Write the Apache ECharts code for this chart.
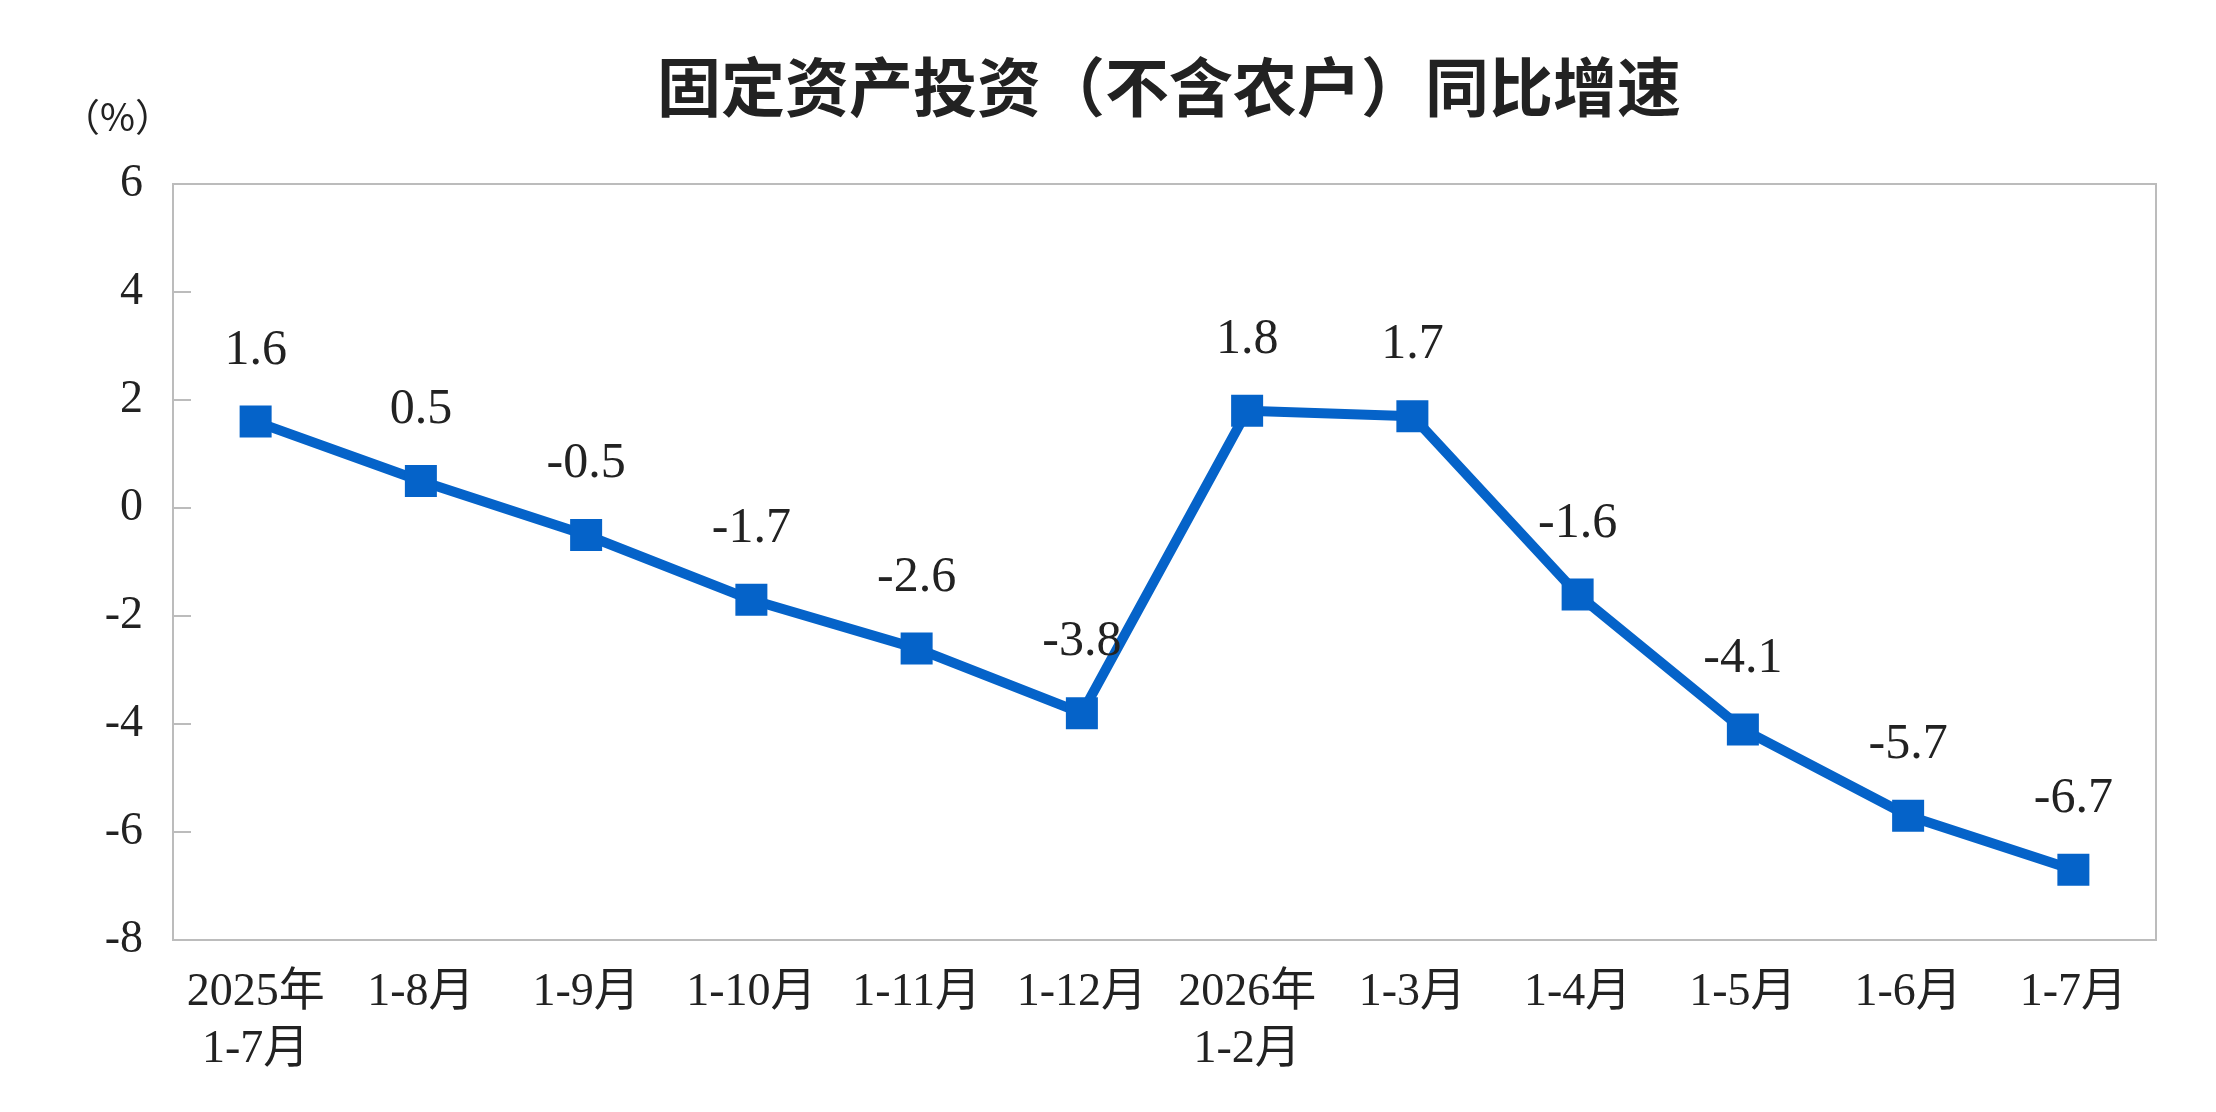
<!DOCTYPE html>
<html>
<head>
<meta charset="utf-8">
<script src="https://cdn.jsdelivr.net/npm/echarts@6/dist/echarts.min.js"></script>
<style>
html,body{margin:0;padding:0;background:#fff;}
#main{width:2216px;height:1112px;}
</style>
</head>
<body>
<div id="main"></div>
<script>
// 时间区间
var periods = ['2025年\n1-7月', '1-8月', '1-9月', '1-10月', '1-11月', '1-12月',
	'2026年\n1-2月', '1-3月', '1-4月', '1-5月', '1-6月', '1-7月'];
// 同比增速（%）
var growth = [1.6, 0.5, -0.5, -1.7, -2.6, -3.8, 1.8, 1.7, -1.6, -4.1, -5.7, -6.7];
// 纵轴刻度
var yMin = -8, yMax = 6, yStep = 2;

var serif = "'Liberation Serif', 'Noto Sans CJK SC', serif";
var textColor = '#222';
var lineColor = '#0563c9';

var chart = echarts.init(document.getElementById('main'));
var option = {
	backgroundColor: '#fff',
	animation: false,
	title: {
		text: '固定资产投资（不含农户）同比增速',
		left: 652,
		top: 50,
		textStyle: {
			fontFamily: "'Noto Sans CJK SC', sans-serif",
			fontSize: 64,
			fontWeight: 'bold',
			color: textColor
		}
	},
	grid: {
		left: 173,
		right: 60,
		top: 184,
		bottom: 172,
		show: true,
		borderColor: '#bcbcbc',
		borderWidth: 2
	},
	xAxis: {
		type: 'category',
		data: periods,
		boundaryGap: true,
		axisLine: { onZero: false, lineStyle: { color: '#bcbcbc', width: 2 } },
		axisTick: {
			inside: true,
			length: 17,
			lineStyle: { color: '#bcbcbc', width: 2 }
		},
		axisLabel: {
			interval: 0,
			margin: 24,
			fontFamily: serif,
			fontSize: 46,
			lineHeight: 57,
			color: textColor
		}
	},
	yAxis: {
		type: 'value',
		min: yMin,
		max: yMax,
		interval: yStep,
		name: '（%）',
		nameLocation: 'end',
		nameGap: 48,
		nameTextStyle: {
			fontFamily: "'Noto Sans CJK SC', sans-serif",
			fontSize: 38,
			color: textColor,
			align: 'right',
			padding: [0, 0, 0, 0]
		},
		axisLine: { show: true, lineStyle: { color: '#bcbcbc', width: 2 } },
		axisTick: {
			show: true,
			inside: true,
			length: 18,
			lineStyle: { color: '#bcbcbc', width: 2 }
		},
		splitLine: { show: false },
		axisLabel: {
			margin: 30,
			fontFamily: serif,
			fontSize: 46,
			color: textColor
		}
	},
	series: [{
		type: 'line',
		data: growth,
		symbol: 'rect',
		symbolSize: 32,
		lineStyle: { color: lineColor, width: 10 },
		itemStyle: { color: lineColor },
		label: {
			show: true,
			position: 'top',
			distance: 30,
			fontFamily: serif,
			fontSize: 50,
			color: textColor,
			formatter: function(p) {
				return p.value.toFixed(1);
			}
		}
	}]
};
chart.setOption(option);
</script>
</body>
</html>
